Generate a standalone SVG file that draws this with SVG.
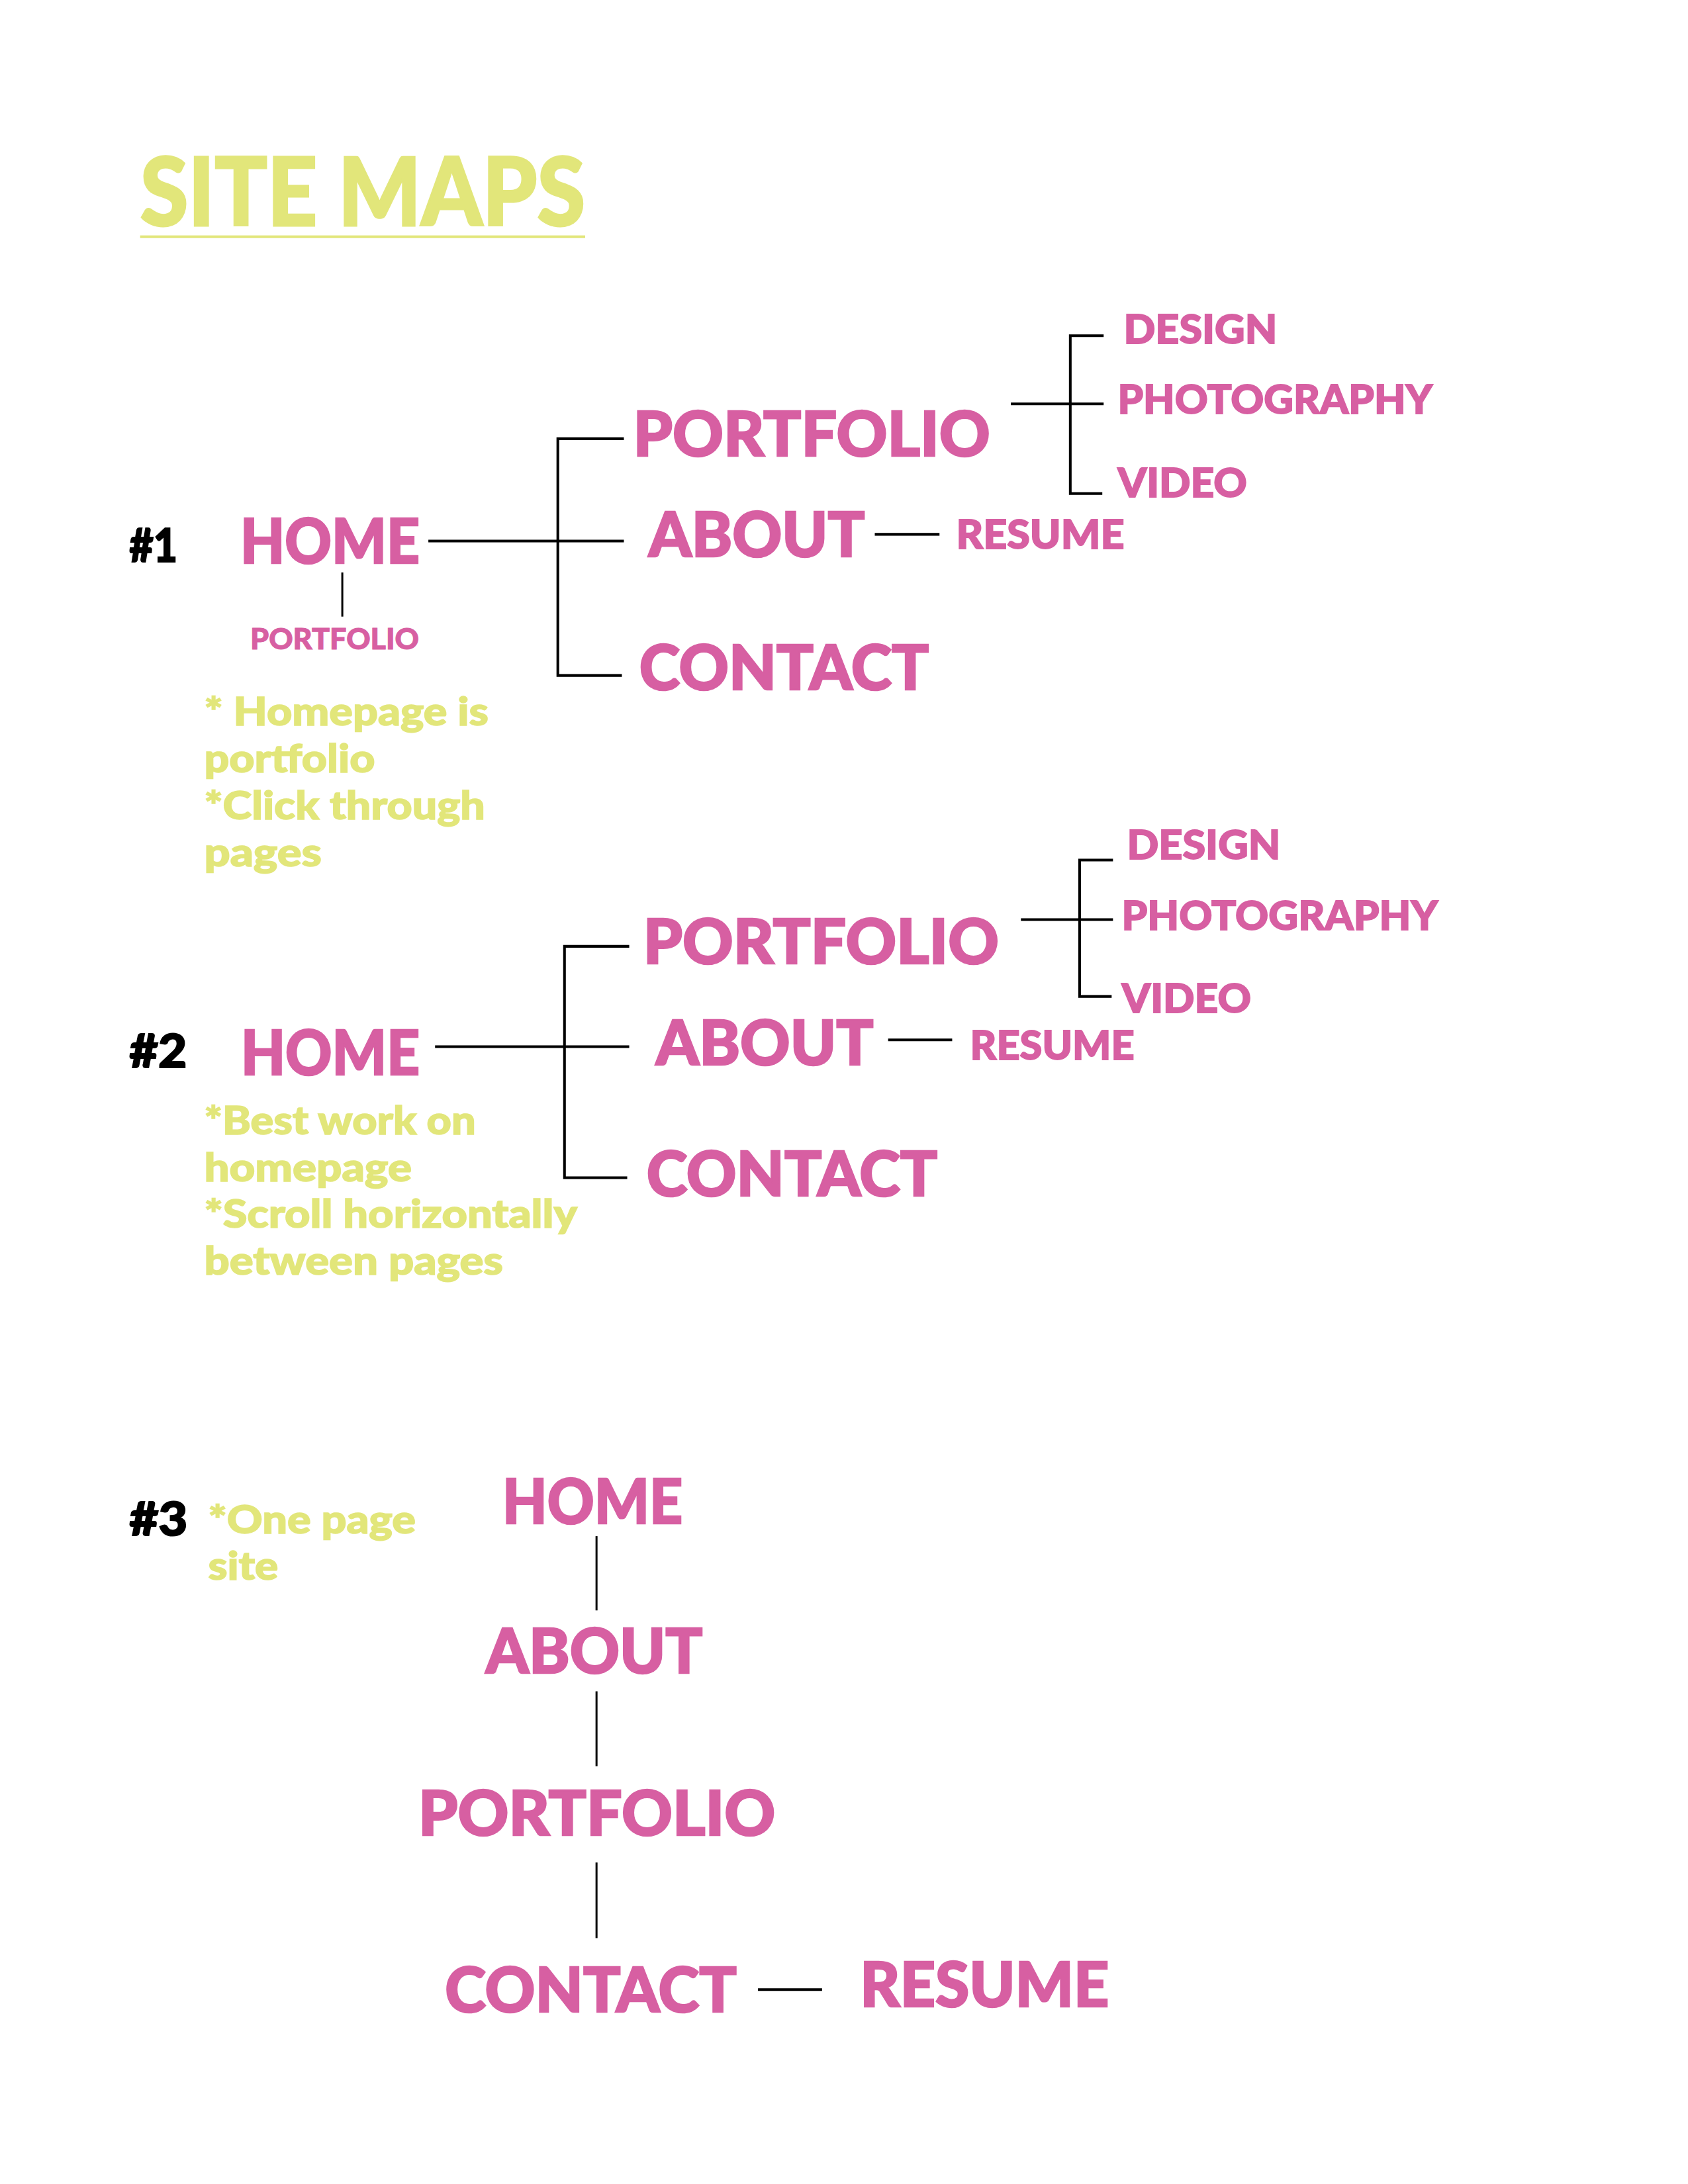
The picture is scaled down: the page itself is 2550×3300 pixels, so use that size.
<svg xmlns="http://www.w3.org/2000/svg" width="2550" height="3300" viewBox="0 0 2550 3300">
<style>
text{font-family:Lato,"Liberation Sans","Noto Sans",sans-serif;font-weight:900}
.title{fill:#E2E67A;stroke:#E2E67A;stroke-width:3;font-size:142px}
.node{fill:#D75FA2;stroke:#D75FA2;stroke-width:2.5;font-size:92px}
.sub{fill:#D75FA2;stroke:#D75FA2;stroke-width:1.8;font-size:61px}
.small{fill:#D75FA2;stroke:#D75FA2;stroke-width:1;font-size:44px}
.num{fill:#000;stroke:#000;stroke-width:2;font-size:70px}
.note{fill:#E2E67A;stroke:#E2E67A;stroke-width:1.5;font-size:58px}
.c{fill:none;stroke:#000;stroke-width:4}
.t{fill:none;stroke:#000;stroke-width:3}
</style>
<rect width="2550" height="3300" fill="#fff"/>
<g id="page" transform="matrix(1.008 0 0 1.0105 0 0)">
<g id="title">
<text class="title" x="210" y="337" textLength="667" lengthAdjust="spacingAndGlyphs">SITE MAPS</text>
<rect x="210" y="352" width="667" height="4" fill="#E2E67A"/>
</g>
<g id="connectors">
<path class="c" d="M642 809H935"/>
<path class="c" d="M935 656H836V1010H932"/>
<path class="c" d="M1311 799H1408"/>
<path class="t" d="M513 856V922"/>
<path class="c" d="M1654 502H1604V738H1652"/>
<path class="c" d="M1515 604H1654"/>
<path class="c" d="M652 1565H943"/>
<path class="c" d="M943 1415H846V1761H940"/>
<path class="c" d="M1331 1555H1427"/>
<path class="c" d="M1668 1286H1618V1490H1666"/>
<path class="c" d="M1530 1375H1668"/>
<path class="t" d="M894 2297V2408"/>
<path class="t" d="M894 2529V2641"/>
<path class="t" d="M894 2785V2898"/>
<path class="c" d="M1136 2975H1232"/>
</g>
<g id="s1-num"><text class="num" x="194" y="840" textLength="72" lengthAdjust="spacingAndGlyphs">#1</text></g>
<g id="s1-home"><text class="node" x="360" y="842" textLength="269" lengthAdjust="spacingAndGlyphs">HOME</text></g>
<g id="s1-home-portfolio"><text class="small" x="375" y="971" textLength="253" lengthAdjust="spacingAndGlyphs">PORTFOLIO</text></g>
<g id="s1-portfolio"><text class="node" x="949" y="682" textLength="535" lengthAdjust="spacingAndGlyphs">PORTFOLIO</text></g>
<g id="s1-about"><text class="node" x="972" y="832" textLength="324" lengthAdjust="spacingAndGlyphs">ABOUT</text></g>
<g id="s1-contact"><text class="node" x="958" y="1031" textLength="434" lengthAdjust="spacingAndGlyphs">CONTACT</text></g>
<g id="s1-resume"><text class="sub" x="1433" y="820" textLength="252" lengthAdjust="spacingAndGlyphs">RESUME</text></g>
<g id="s1-design"><text class="sub" x="1684" y="514" textLength="230" lengthAdjust="spacingAndGlyphs">DESIGN</text></g>
<g id="s1-photography"><text class="sub" x="1675" y="619" textLength="472" lengthAdjust="spacingAndGlyphs">PHOTOGRAPHY</text></g>
<g id="s1-video"><text class="sub" x="1675" y="743" textLength="194" lengthAdjust="spacingAndGlyphs">VIDEO</text></g>
<g id="s1-notes">
<text class="note" x="306" y="1085" textLength="426" lengthAdjust="spacingAndGlyphs">* Homepage is</text>
<text class="note" x="306" y="1155" textLength="256" lengthAdjust="spacingAndGlyphs">portfolio</text>
<text class="note" x="306" y="1225" textLength="421" lengthAdjust="spacingAndGlyphs">*Click through</text>
<text class="note" x="306" y="1295" textLength="176" lengthAdjust="spacingAndGlyphs">pages</text>
</g>
<g id="s2-num"><text class="num" x="194" y="1596" textLength="86" lengthAdjust="spacingAndGlyphs">#2</text></g>
<g id="s2-home"><text class="node" x="361" y="1607" textLength="268" lengthAdjust="spacingAndGlyphs">HOME</text></g>
<g id="s2-portfolio"><text class="node" x="964" y="1441" textLength="533" lengthAdjust="spacingAndGlyphs">PORTFOLIO</text></g>
<g id="s2-about"><text class="node" x="983" y="1592" textLength="326" lengthAdjust="spacingAndGlyphs">ABOUT</text></g>
<g id="s2-contact"><text class="node" x="969" y="1788" textLength="436" lengthAdjust="spacingAndGlyphs">CONTACT</text></g>
<g id="s2-resume"><text class="sub" x="1454" y="1584" textLength="246" lengthAdjust="spacingAndGlyphs">RESUME</text></g>
<g id="s2-design"><text class="sub" x="1689" y="1285" textLength="230" lengthAdjust="spacingAndGlyphs">DESIGN</text></g>
<g id="s2-photography"><text class="sub" x="1681" y="1390" textLength="474" lengthAdjust="spacingAndGlyphs">PHOTOGRAPHY</text></g>
<g id="s2-video"><text class="sub" x="1681" y="1514" textLength="194" lengthAdjust="spacingAndGlyphs">VIDEO</text></g>
<g id="s2-notes">
<text class="note" x="306" y="1696" textLength="407" lengthAdjust="spacingAndGlyphs">*Best work on</text>
<text class="note" x="306" y="1766" textLength="311" lengthAdjust="spacingAndGlyphs">homepage</text>
<text class="note" x="306" y="1836" textLength="559" lengthAdjust="spacingAndGlyphs">*Scroll horizontally</text>
<text class="note" x="306" y="1906" textLength="448" lengthAdjust="spacingAndGlyphs">between pages</text>
</g>
<g id="s3-num"><text class="num" x="194" y="2296" textLength="87" lengthAdjust="spacingAndGlyphs">#3</text></g>
<g id="s3-notes">
<text class="note" x="312" y="2293" textLength="311" lengthAdjust="spacingAndGlyphs">*One page</text>
<text class="note" x="312" y="2362" textLength="105" lengthAdjust="spacingAndGlyphs">site</text>
</g>
<g id="s3-home"><text class="node" x="753" y="2278" textLength="270" lengthAdjust="spacingAndGlyphs">HOME</text></g>
<g id="s3-about"><text class="node" x="728" y="2502" textLength="325" lengthAdjust="spacingAndGlyphs">ABOUT</text></g>
<g id="s3-portfolio"><text class="node" x="627" y="2744" textLength="535" lengthAdjust="spacingAndGlyphs">PORTFOLIO</text></g>
<g id="s3-contact"><text class="node" x="667" y="3008" textLength="437" lengthAdjust="spacingAndGlyphs">CONTACT</text></g>
<g id="s3-resume"><text class="node" x="1289" y="3001" textLength="373" lengthAdjust="spacingAndGlyphs">RESUME</text></g>
</g>
</svg>
